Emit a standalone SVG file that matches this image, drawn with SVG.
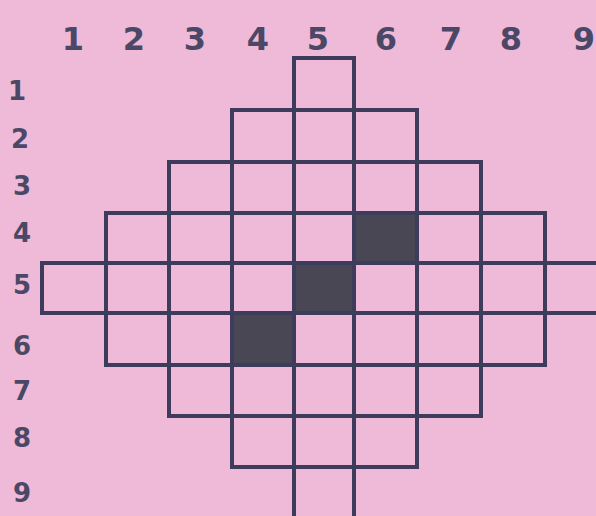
<svg xmlns="http://www.w3.org/2000/svg" width="596" height="516" viewBox="0 0 596 516">
<style>
.bg{fill:#efb9d8}
.c{fill:none;stroke:#3e3c5c;stroke-width:4}
.f{fill:#4a4755;stroke:#3e3c5c;stroke-width:4}
.col{font-family:"DejaVu Sans","Liberation Sans",sans-serif;font-size:32px;font-weight:bold;fill:#4a4866;text-anchor:middle}
.row{font-family:"DejaVu Sans","Liberation Sans",sans-serif;font-size:26px;font-weight:bold;fill:#4a4866;text-anchor:middle}
</style>
<rect class="bg" x="0" y="0" width="596" height="516"/>
<g id="column-labels">
<text class="col" x="73" y="50">1</text>
<text class="col" x="134" y="50">2</text>
<text class="col" x="195" y="50">3</text>
<text class="col" x="258" y="50">4</text>
<text class="col" x="318" y="50">5</text>
<text class="col" x="386" y="50">6</text>
<text class="col" x="451" y="50">7</text>
<text class="col" x="511" y="50">8</text>
<text class="col" x="584" y="50">9</text>
</g>
<g id="row-labels">
<text class="row" x="17" y="100">1</text>
<text class="row" x="20" y="148">2</text>
<text class="row" x="22" y="195">3</text>
<text class="row" x="22" y="242">4</text>
<text class="row" x="22" y="294">5</text>
<text class="row" x="22" y="355">6</text>
<text class="row" x="22" y="400">7</text>
<text class="row" x="22" y="447">8</text>
<text class="row" x="22" y="502">9</text>
</g>
<g id="grid">
<rect class="c" x="294" y="58" width="60" height="52"/>
<rect class="c" x="232" y="110" width="62" height="52"/>
<rect class="c" x="294" y="110" width="60" height="52"/>
<rect class="c" x="354" y="110" width="63" height="52"/>
<rect class="c" x="169" y="162" width="63" height="51"/>
<rect class="c" x="232" y="162" width="62" height="51"/>
<rect class="c" x="294" y="162" width="60" height="51"/>
<rect class="c" x="354" y="162" width="63" height="51"/>
<rect class="c" x="417" y="162" width="64" height="51"/>
<rect class="c" x="106" y="213" width="63" height="50"/>
<rect class="c" x="169" y="213" width="63" height="50"/>
<rect class="c" x="232" y="213" width="62" height="50"/>
<rect class="c" x="294" y="213" width="60" height="50"/>
<rect class="c" x="417" y="213" width="64" height="50"/>
<rect class="c" x="481" y="213" width="64" height="50"/>
<rect class="c" x="42" y="263" width="64" height="50"/>
<rect class="c" x="106" y="263" width="63" height="50"/>
<rect class="c" x="169" y="263" width="63" height="50"/>
<rect class="c" x="232" y="263" width="62" height="50"/>
<rect class="c" x="354" y="263" width="63" height="50"/>
<rect class="c" x="417" y="263" width="64" height="50"/>
<rect class="c" x="481" y="263" width="64" height="50"/>
<rect class="c" x="545" y="263" width="70" height="50"/>
<rect class="c" x="106" y="313" width="63" height="52"/>
<rect class="c" x="169" y="313" width="63" height="52"/>
<rect class="c" x="294" y="313" width="60" height="52"/>
<rect class="c" x="354" y="313" width="63" height="52"/>
<rect class="c" x="417" y="313" width="64" height="52"/>
<rect class="c" x="481" y="313" width="64" height="52"/>
<rect class="c" x="169" y="365" width="63" height="51"/>
<rect class="c" x="232" y="365" width="62" height="51"/>
<rect class="c" x="294" y="365" width="60" height="51"/>
<rect class="c" x="354" y="365" width="63" height="51"/>
<rect class="c" x="417" y="365" width="64" height="51"/>
<rect class="c" x="232" y="416" width="62" height="51"/>
<rect class="c" x="294" y="416" width="60" height="51"/>
<rect class="c" x="354" y="416" width="63" height="51"/>
<rect class="c" x="294" y="467" width="60" height="70"/>
</g>
<g id="filled-cells">
<rect class="f" x="354" y="213" width="63" height="50"/>
<rect class="f" x="294" y="263" width="60" height="50"/>
<rect class="f" x="232" y="313" width="62" height="52"/>
</g>
</svg>
